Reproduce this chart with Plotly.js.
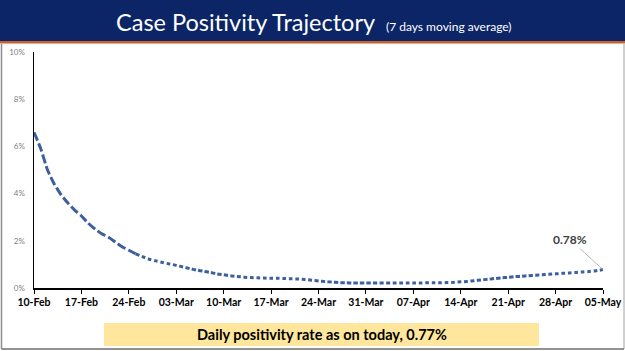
<!DOCTYPE html>
<html>
<head>
<meta charset="utf-8">
<script src="https://cdn.plot.ly/plotly-3.0.1.min.js"></script>
<style>
html,body{margin:0;padding:0;background:#fff;}
#chart{width:625px;height:351px;}
</style>
</head>
<body>
<div id="chart"></div>
<script>
// ---- data ----
const startDate = '2021-02-10';
const positivity = [
  6.6, 5.9, 5.0, 4.4, 3.95, 3.6, 3.3, 3.05, 2.75, 2.5,
  2.3, 2.15, 1.95, 1.75, 1.6, 1.45, 1.33, 1.22, 1.15, 1.08,
  1.02, 0.96, 0.89, 0.82, 0.76, 0.71, 0.66, 0.6, 0.56, 0.52,
  0.49, 0.46, 0.44, 0.43, 0.42, 0.41, 0.41, 0.40, 0.39, 0.38,
  0.36, 0.33, 0.30, 0.27, 0.25, 0.23, 0.22, 0.21, 0.21, 0.21,
  0.21, 0.21, 0.21, 0.21, 0.21, 0.21, 0.21, 0.21, 0.22, 0.22,
  0.22, 0.23, 0.24, 0.26, 0.28, 0.31, 0.34, 0.37, 0.40, 0.43,
  0.45, 0.48, 0.50, 0.52, 0.54, 0.56, 0.58, 0.60, 0.62, 0.64,
  0.66, 0.68, 0.70, 0.73, 0.78
];
const tickDates = ['2021-02-10','2021-02-17','2021-02-24','2021-03-03','2021-03-10','2021-03-17','2021-03-24','2021-03-31','2021-04-07','2021-04-14','2021-04-21','2021-04-28','2021-05-05'];
const tickLabels = ['10-Feb','17-Feb','24-Feb','03-Mar','10-Mar','17-Mar','24-Mar','31-Mar','07-Apr','14-Apr','21-Apr','28-Apr','05-May'];
const yTickVals = [0, 2, 4, 6, 8, 10];
const yTickLabels = ['0%','2%','4%','6%','8%','10%'];
const titleMain = 'Case Positivity Trajectory';
const titleSub = '(7 days moving average)';
const endLabel = '0.78%';
const footerText = 'Daily positivity rate as on today, 0.77%';

// dates
const dates = [];
(function(){
  const d0 = new Date(startDate + 'T00:00:00Z');
  for (let i = 0; i < positivity.length; i++) {
    const d = new Date(d0.getTime() + i * 86400000);
    dates.push(d.toISOString().slice(0,10));
  }
})();

// ---- layout geometry ----
const W = 625, H = 351;
const M = {l: 34, r: 22, t: 52, b: 63};
const PW = W - M.l - M.r, PH = H - M.t - M.b;
const px = x => (x - M.l) / PW;
const py = y => (H - M.b - y) / PH;

const split = 15;
const lineColor = '#3d5f9e';
const traces = [
  {x: dates.slice(0, split + 1), y: positivity.slice(0, split + 1), type: 'scatter', mode: 'lines',
   line: {color: lineColor, width: 3, dash: '9px,3px', shape: 'spline', smoothing: 0.6}, hoverinfo: 'skip'},
  {x: dates.slice(split), y: positivity.slice(split), type: 'scatter', mode: 'lines',
   line: {color: lineColor, width: 3, dash: '4px,2.5px', shape: 'spline', smoothing: 0.6}, hoverinfo: 'skip'}
];

const layout = {
  width: W, height: H,
  margin: M,
  paper_bgcolor: '#ffffff', plot_bgcolor: '#ffffff',
  showlegend: false,
  xaxis: {
    type: 'date', range: [dates[0], dates[dates.length - 1]],
    tickvals: tickDates, ticktext: tickLabels,
    showgrid: false, zeroline: false,
    showline: true, linecolor: '#000', linewidth: 1.5,
    ticks: 'outside', ticklen: 4, tickcolor: '#000', tickwidth: 1,
    tickfont: {family: 'Lato, sans-serif', size: 10.5, color: '#000', weight: 'bold'},
    fixedrange: true
  },
  yaxis: {
    range: [0, 10],
    tickvals: yTickVals, ticktext: yTickLabels,
    showgrid: false, zeroline: false,
    showline: true, linecolor: '#000', linewidth: 1.5,
    ticks: '', ticklabelstandoff: 6,
    tickfont: {family: 'Lato, sans-serif', size: 8, color: '#7f7f7f'},
    fixedrange: true
  },
  shapes: [
    // header band
    {type: 'rect', xref: 'paper', yref: 'paper', x0: px(0), x1: px(W), y0: py(41), y1: py(0),
     fillcolor: '#0c2566', line: {width: 0}, layer: 'below'},
    // orange stripe
    {type: 'rect', xref: 'paper', yref: 'paper', x0: px(0), x1: px(W), y0: py(43.5), y1: py(41),
     fillcolor: '#c4622d', line: {width: 0}, layer: 'below'},
    // left frame
    {type: 'line', xref: 'paper', yref: 'paper', x0: px(1.5), x1: px(1.5), y0: py(44), y1: py(349),
     line: {color: '#8c8c8c', width: 1.5}},
    // right frame
    {type: 'line', xref: 'paper', yref: 'paper', x0: px(624), x1: px(624), y0: py(44), y1: py(349),
     line: {color: '#a0a0a0', width: 1}},
    // bottom frame
    {type: 'line', xref: 'paper', yref: 'paper', x0: px(1.5), x1: px(624), y0: py(349), y1: py(349),
     line: {color: '#6e6e6e', width: 1.5}},
    // footer box
    {type: 'rect', xref: 'paper', yref: 'paper', x0: px(104), x1: px(539), y0: py(346), y1: py(323),
     fillcolor: '#fee79c', line: {width: 0}}
  ],
  annotations: [
    {xref: 'paper', yref: 'paper', x: px(245), y: py(22), xanchor: 'center', yanchor: 'middle',
     text: titleMain, showarrow: false,
     font: {family: 'Lato, sans-serif', size: 23.5, color: '#ffffff'}},
    {xref: 'paper', yref: 'paper', x: px(449), y: py(26), xanchor: 'center', yanchor: 'middle',
     text: titleSub, showarrow: false,
     font: {family: 'Lato, sans-serif', size: 12, color: '#ffffff'}},
    {x: dates[dates.length - 1], y: positivity[positivity.length - 1], xref: 'x', yref: 'y',
     text: endLabel, showarrow: true, arrowhead: 0, arrowwidth: 0.8, arrowcolor: '#a6a6a6',
     ax: -33, ay: -30, standoff: 0,
     font: {family: 'Lato, sans-serif', size: 12, color: '#404040', weight: 'bold'}},
    {xref: 'paper', yref: 'paper', x: px(321.5), y: py(334.5), xanchor: 'center', yanchor: 'middle',
     text: footerText, showarrow: false,
     font: {family: 'Lato, sans-serif', size: 14.5, color: '#000', weight: 'bold'}}
  ]
};

Plotly.newPlot('chart', traces, layout, {staticPlot: true, displayModeBar: false});
</script>
</body>
</html>
